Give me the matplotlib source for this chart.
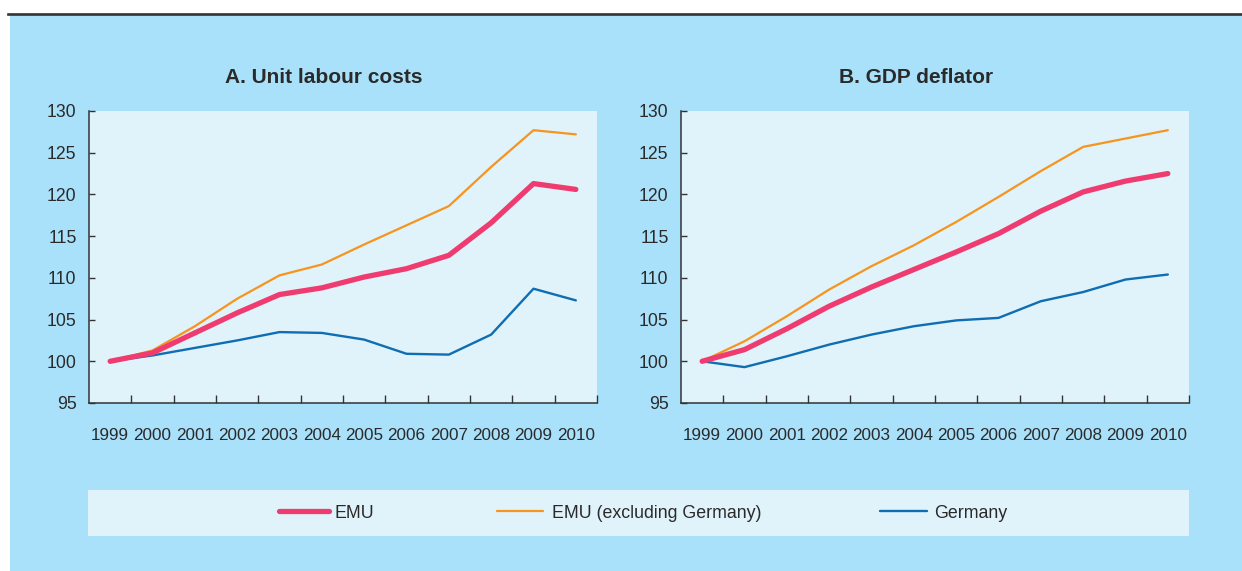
import matplotlib.pyplot as plt
from matplotlib.patches import Rectangle
from matplotlib.lines import Line2D

years = ['1999', '2000', '2001', '2002', '2003', '2004',
         '2005', '2006', '2007', '2008', '2009', '2010']

# A. Unit labour costs (1999 = 100)
ulc_emu = [100.0, 101.0, 103.4, 105.8, 108.0, 108.8, 110.1, 111.1, 112.7, 116.6, 121.3, 120.6]
ulc_emu_ex_de = [100.0, 101.3, 104.2, 107.5, 110.3, 111.6, 114.0, 116.3, 118.6, 123.3, 127.7, 127.2]
ulc_germany = [100.0, 100.7, 101.6, 102.5, 103.5, 103.4, 102.6, 100.9, 100.8, 103.2, 108.7, 107.3]

# B. GDP deflator (1999 = 100)
defl_emu = [100.0, 101.4, 103.9, 106.6, 108.9, 111.0, 113.1, 115.3, 118.0, 120.3, 121.6, 122.5]
defl_emu_ex_de = [100.0, 102.4, 105.4, 108.6, 111.4, 113.9, 116.7, 119.7, 122.8, 125.7, 126.7, 127.7]
defl_germany = [100.0, 99.3, 100.6, 102.0, 103.2, 104.2, 104.9, 105.2, 107.2, 108.3, 109.8, 110.4]

series_names = ['EMU', 'EMU (excluding Germany)', 'Germany']
series_colors = ['#EF3B6F', '#F7941D', '#0E6DB3']
series_widths = [3.8, 1.6, 1.7]

yticks = [95, 100, 105, 110, 115, 120, 125, 130]

OUTER = '#A9E0FA'
INNER = '#E0F3FA'
INK = '#2A2A2A'
FONT = ['Liberation Sans', 'DejaVu Sans']

W, H = 1242, 571
fig = plt.figure(figsize=(W / 100, H / 100), dpi=100)
fig.patch.set_facecolor('white')


def fx(px):
    return px / W


def fy(py):
    return 1 - py / H


# panel background and rule at top
fig.add_artist(Rectangle((fx(10), 0), 1 - fx(10), fy(14), transform=fig.transFigure,
                         facecolor=OUTER, edgecolor='none', zorder=0))
fig.add_artist(Line2D([fx(8), 1], [fy(13.5), fy(13.5)], transform=fig.transFigure,
                      color='#333333', lw=1.9, zorder=1))
# legend strip
fig.add_artist(Rectangle((fx(88), fy(536)), fx(1189 - 88), (536 - 490) / H,
                         transform=fig.transFigure, facecolor=INNER,
                         edgecolor='none', zorder=1))


def panel(left, title, emu, ex_de, de):
    ax = fig.add_axes([fx(left), fy(403), fx(508), 292 / H])
    ax.set_facecolor(INNER)
    x = range(len(years))
    lines = []
    for vals, c, lw in zip([emu, ex_de, de], series_colors, series_widths):
        ln, = ax.plot(x, vals, color=c, lw=lw, solid_capstyle='round',
                      solid_joinstyle='round')
        lines.append(ln)
    # draw EMU on top
    lines[0].set_zorder(3)
    ax.set_xlim(-0.5, len(years) - 0.5)
    ax.set_ylim(95, 130)
    ax.set_yticks(yticks)
    ax.set_xticks(list(x))
    ax.set_xticklabels(years, family=FONT, fontsize=12.3, color=INK)
    ax.set_xticks([i + 0.5 for i in range(len(years))], minor=True)
    ax.tick_params(axis='x', which='major', length=0, pad=18)
    ax.tick_params(axis='x', which='minor', direction='in', length=6,
                   width=1, color='#333333')
    ax.tick_params(axis='y', direction='in', length=4, width=1,
                   color='#333333', pad=9, labelsize=12.7, labelcolor=INK)
    for lab in ax.get_yticklabels():
        lab.set_family(FONT)
    for s in ['top', 'right']:
        ax.spines[s].set_visible(False)
    for s in ['left', 'bottom']:
        ax.spines[s].set_color('#333333')
        ax.spines[s].set_linewidth(1.1)
    fig.text(fx(left + 254 - 19), fy(77), title, ha='center', va='center',
             fontsize=15, fontweight='bold', family=FONT, color=INK)
    return lines


lines = panel(89, 'A. Unit labour costs', ulc_emu, ulc_emu_ex_de, ulc_germany)
panel(681, 'B. GDP deflator', defl_emu, defl_emu_ex_de, defl_germany)

# legend entries, one per series
key_left = [279, 497, 880]
key_len = [2.8, 2.6, 2.65]
key_pad = [0.3, 0.5, 0.4]
for ln, name, xl, hl, tp in zip(lines, series_names, key_left, key_len, key_pad):
    leg = fig.legend([ln], [name], loc='center left',
                     bbox_to_anchor=(fx(xl), fy(513)), frameon=False,
                     borderpad=0, borderaxespad=0, handlelength=hl,
                     handletextpad=tp,
                     prop={'family': FONT, 'size': 12.8})
    for t in leg.get_texts():
        t.set_color(INK)

fig.savefig('out.png', dpi=100, facecolor=fig.get_facecolor())
